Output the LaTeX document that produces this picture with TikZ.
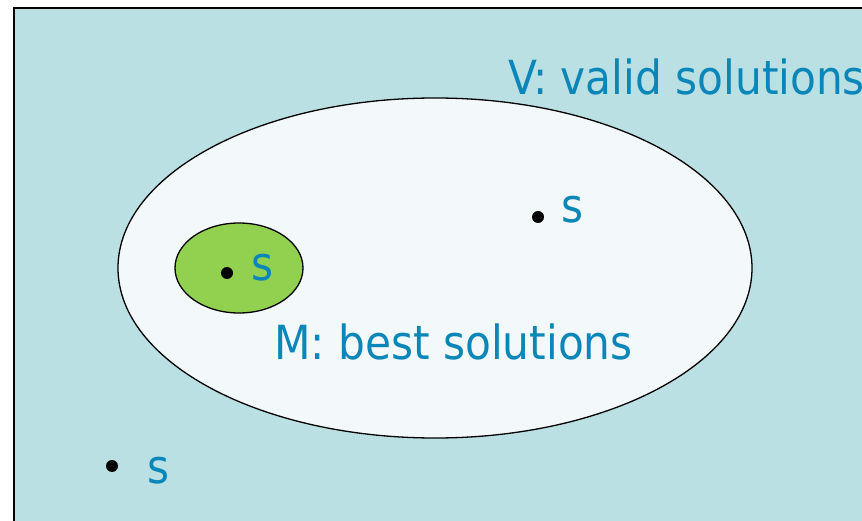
\documentclass[tikz,border=0pt]{standalone}
\usepackage{fontspec}
\setsansfont{DejaVu Sans Condensed}
\definecolor{fieldBlue}{HTML}{BAE0E3}
\definecolor{setWhite}{HTML}{F3F8FA}
\definecolor{bestGreen}{HTML}{92D050}
\definecolor{textBlue}{HTML}{0A86B8}
\begin{document}
\begin{tikzpicture}
[x=1pt,y=-1pt,
  textDecorate/.style={text=textBlue,font=\sffamily\fontsize{47}{56}\selectfont,inner sep=0pt,anchor=base west},%
  dotDecorate/.style={shape=circle,fill=black,inner sep=0pt,minimum size=12pt},%
  setDecorate/.style={draw=black,line width=1.3pt}]
\useasboundingbox (0,0) rectangle (862,521);
\clip (0,0) rectangle (862,521);
%% solution space and the two sets
\path[fill=fieldBlue,draw=black,line width=1.6pt] (14,8) rectangle (890,550);
\draw[setDecorate,fill=setWhite] (435,268) ellipse [x radius=317,y radius=170];
\draw[setDecorate,fill=bestGreen] (239,268) ellipse [x radius=64,y radius=45];
%% set names
\node (validname) at (508,95) [textDecorate] {V: valid solutions};
\node (bestname) at (274,359) [textDecorate] {M: best solutions};
%% solutions
\foreach \nodename/\x/\y in {
  best/227/273, valid/538/217, other/112/466}
{
  \node (\nodename) at (\x,\y) [dotDecorate] {};
}
\foreach \nodename/\x/\y in {
  best/251/281, valid/561/223, other/147/483}
{
  \node (\nodename s) at (\x,\y) [textDecorate] {s};
}
\end{tikzpicture}
\end{document}
